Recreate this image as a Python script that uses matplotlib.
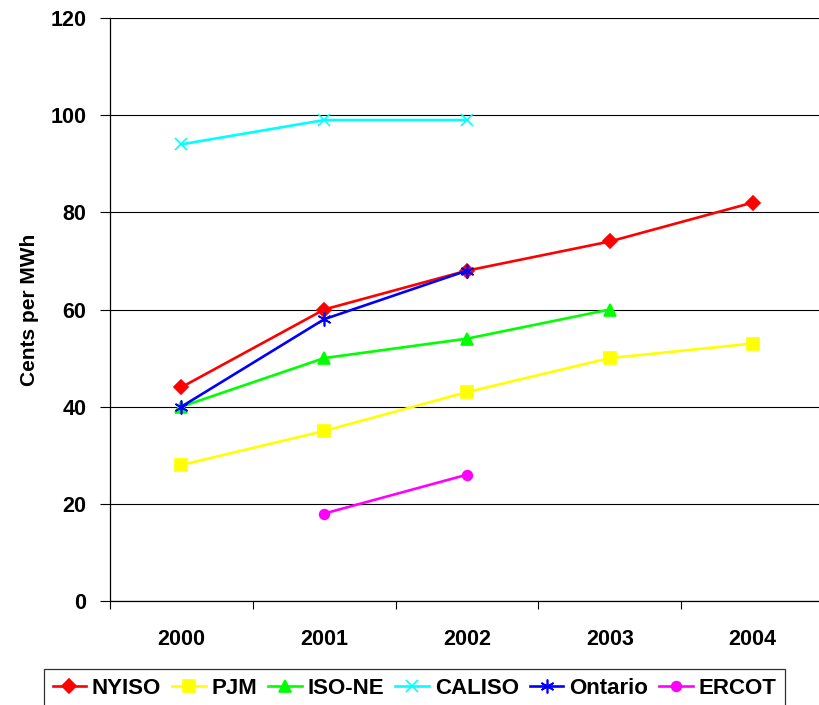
import matplotlib
matplotlib.use("Agg")
import matplotlib.pyplot as plt
import numpy as np

years = ["2000", "2001", "2002", "2003", "2004"]
nyiso = [44, 60, 68, 74, 82]
pjm = [28, 35, 43, 50, 53]
iso_ne = [40, 50, 54, 60, np.nan]
caliso = [94, 99, 99, np.nan, np.nan]
ontario = [40, 58, 68, np.nan, np.nan]
ercot = [np.nan, 18, 26, np.nan, np.nan]

plt.rcParams["font.family"] = ["Liberation Sans", "DejaVu Sans"]
plt.rcParams["font.weight"] = "bold"

fig = plt.figure(figsize=(8.2, 7.05), dpi=100)
ax = fig.add_axes([110 / 820, 1 - 601 / 705, 714 / 820, 583 / 705])

x = np.arange(len(years))
series = [
    ("NYISO", nyiso, "#ff0000", "D", 7),
    ("PJM", pjm, "#ffff00", "s", 8),
    ("ISO-NE", iso_ne, "#00ff00", "^", 8),
    ("CALISO", caliso, "#00ffff", "x", 8),
    ("Ontario", ontario, "#0000ff", (6, 2, 0), 10),
    ("ERCOT", ercot, "#ff00ff", "o", 7),
]
for label, vals, color, marker, ms in series:
    ax.plot(x, vals, color=color, lw=1.9, marker=marker, ms=ms,
            mec=color, mfc=color, mew=1.2, label=label, zorder=3)

ax.set_xlim(-0.5, len(years) - 0.5)
ax.set_ylim(0, 120)
ax.set_yticks(np.arange(0, 121, 20))
ax.yaxis.grid(True, color="black", lw=0.8)
ax.set_axisbelow(True)

# category boundaries carry the tick marks, labels sit at category centres
ax.set_xticks(np.arange(-0.5, len(years) - 0.5, 1))
ax.set_xticklabels([])
ax.set_xticks(x, minor=True)
ax.set_xticklabels(years, minor=True)
ax.tick_params(axis="x", which="major", length=6, width=0.8, direction="out")
ax.tick_params(axis="x", which="minor", length=0, pad=20, labelsize=15.5)
ax.tick_params(axis="y", length=7, width=0.8, direction="out", labelsize=15.5, pad=10)

for s in ["top", "right"]:
    ax.spines[s].set_visible(False)
for s in ["left", "bottom"]:
    ax.spines[s].set_linewidth(0.9)

ax.set_ylabel("Cents per MWh", fontsize=15, fontweight="bold", labelpad=8)

leg = fig.legend(loc="upper center", bbox_to_anchor=(414.5 / 820, 1 - 669 / 705), ncol=6,
                 frameon=True, fancybox=False, edgecolor="black",
                 fontsize=16, handlelength=1.5, handletextpad=0.27,
                 columnspacing=0.5, borderpad=0.4, borderaxespad=0)
leg.get_frame().set_linewidth(0.9)

fig.savefig("out.png", dpi=100)
